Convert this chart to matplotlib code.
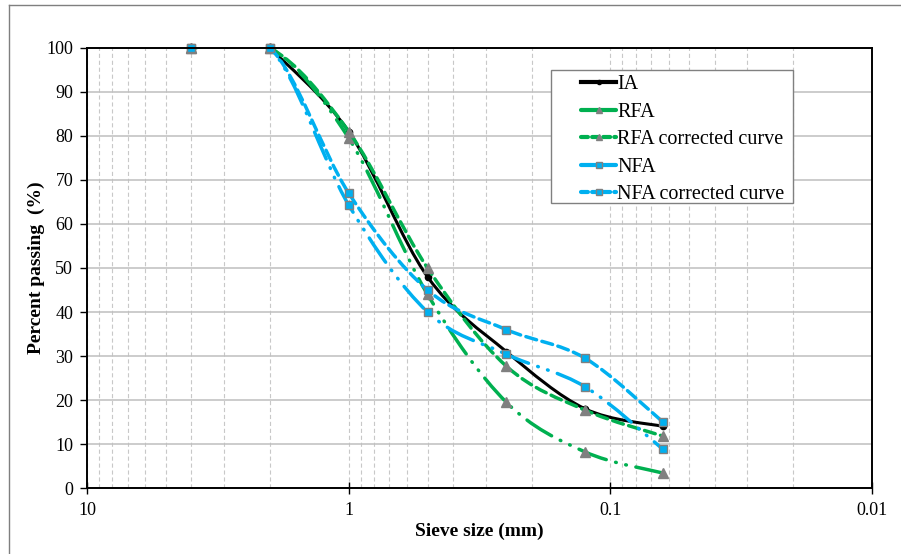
import matplotlib
matplotlib.use('Agg')
import matplotlib.pyplot as plt
from matplotlib.path import Path
from matplotlib.patches import PathPatch, Rectangle
from matplotlib.lines import Line2D
from matplotlib.ticker import FixedLocator, NullFormatter
import numpy as np

plt.rcParams['font.family'] = ['Liberation Serif', 'DejaVu Serif']
plt.rcParams['lines.scale_dashes'] = False

# sieve sizes (mm)
sieve_ia = [2, 1, 0.5, 0.25, 0.125, 0.063]
sieve_fa = [4, 2, 1, 0.5, 0.25, 0.125, 0.063]

ia = [100, 81, 48, 31, 18, 14]
rfa = [100, 100, 79.5, 44, 19.5, 8.2, 3.4]
rfa_corr = [100, 100, 81, 50, 27.7, 17.7, 11.8]
nfa = [100, 100, 64.3, 40, 30.4, 23, 8.8]
nfa_corr = [100, 100, 67, 45, 36, 29.5, 15]

green = '#00B050'
blue = '#00B0F0'
grey = '#808080'
dashdotdot = (0, (21, 7, 0.5, 7, 0.5, 7))
dashed = (0, (8, 4))


def smooth_path(xs, ys):
    # bezier through the points, control points taken in log-x space
    u = np.log10(xs)
    p = np.column_stack([u, ys])
    n = len(p)
    verts = [p[0]]
    codes = [Path.MOVETO]
    for i in range(n - 1):
        a = p[i - 1] if i > 0 else p[i]
        d = p[i + 2] if i + 2 < n else p[i + 1]
        c1 = p[i] + (p[i + 1] - a) / 6
        c2 = p[i + 1] - (d - p[i]) / 6
        verts += [c1, c2, p[i + 1]]
        codes += [Path.CURVE4] * 3
    verts = np.array(verts)
    verts[:, 0] = 10 ** verts[:, 0]
    return Path(verts, codes)


fig = plt.figure(figsize=(9.01, 5.54), dpi=100)
ax = fig.add_axes([0.0966, 0.1191, 0.8714, 0.7943])

series = [
    ('IA', sieve_ia, ia, 'black', '-', 'o', 'black', 'black', 4.5),
    ('RFA', sieve_fa, rfa, green, dashdotdot, '^', grey, grey, 6.5),
    ('RFA corrected curve', sieve_fa, rfa_corr, green, dashed, '^', grey, grey, 6.5),
    ('NFA', sieve_fa, nfa, blue, dashdotdot, 's', blue, grey, 5.5),
    ('NFA corrected curve', sieve_fa, nfa_corr, blue, dashed, 's', blue, grey, 5.5),
]

handles = []
for k, (name, xs, ys, col, ls, mk, mfc, mec, ms) in enumerate(series):
    lw = 2.2 if col == 'black' else 2.5
    patch = PathPatch(smooth_path(xs, ys), fill=False, edgecolor=col, lw=lw,
                      linestyle=ls, capstyle='round', joinstyle='round',
                      zorder=3 + k, clip_on=True)
    ax.add_patch(patch)
    ax.plot(xs, ys, linestyle='none', marker=mk, mfc=mfc, mec=mec, mew=1,
            ms=ms, zorder=3 + k, clip_on=False)
    leg_ls = (0, (5, 3)) if ls == dashed else ('-' if col == 'black' else (0, (30, 1)))
    handles.append(Line2D([], [], color=col, lw=3, linestyle=leg_ls, marker=mk,
                          mfc=mfc, mec=mec, ms=ms - 1.5, dash_capstyle='round'))

ax.set_xscale('log')
ax.set_xlim(10, 0.01)
ax.set_ylim(0, 100)

ax.xaxis.set_major_locator(FixedLocator([10, 1, 0.1, 0.01]))
ax.set_xticklabels(['10', '1', '0.1', '0.01'])
minors = [m * 10.0 ** e for e in (0, -1, -2) for m in range(2, 10)]
ax.xaxis.set_minor_locator(FixedLocator(minors))
ax.xaxis.set_minor_formatter(NullFormatter())
ax.set_yticks(range(0, 101, 10))

ax.grid(True, axis='x', which='both', color='#C8C8C8', ls=(0, (3, 2)), lw=0.8)
ax.grid(True, axis='y', which='major', color='#BFBFBF', ls='-', lw=1.1)
ax.set_axisbelow(True)

ax.tick_params(axis='x', which='major', direction='inout', length=8, width=1,
               labelsize=13, pad=6)
ax.tick_params(axis='x', which='minor', length=0)
ax.tick_params(axis='y', direction='out', length=5, width=1, labelsize=13, pad=5)
for s in ax.spines.values():
    s.set_linewidth(1.4)
    s.set_color('black')
    s.set_zorder(20)

ax.set_xlabel('Sieve size (mm)', fontsize=14, fontweight='bold', labelpad=3)
ax.set_ylabel('Percent passing  (%)', fontsize=14, fontweight='bold', labelpad=1)

# legend box drawn by hand, entries placed inside it
box = Rectangle(((551 - 87) / 785, (488 - 203) / 440), 242 / 785, 133 / 440,
                transform=ax.transAxes, facecolor='white', edgecolor=grey, lw=1,
                zorder=29)
ax.add_patch(box)
leg = ax.legend(handles, [s[0] for s in series], loc='upper left',
                bbox_to_anchor=((581 - 87) / 785, (488 - 75) / 440),
                fontsize=14.5, frameon=False, handlelength=1.75,
                handletextpad=0.05, borderpad=0, labelspacing=0.42,
                borderaxespad=0)
leg.set_zorder(30)

# outer border lines (left and top) as in the source image
fig.add_artist(Line2D([9 / 901, 9 / 901], [0, 1 - 5 / 554], color='#7F7F7F', lw=1,
                      transform=fig.transFigure))
fig.add_artist(Line2D([9 / 901, 1], [1 - 5 / 554, 1 - 5 / 554], color='#7F7F7F', lw=1,
                      transform=fig.transFigure))

fig.savefig('out.png', dpi=100)
